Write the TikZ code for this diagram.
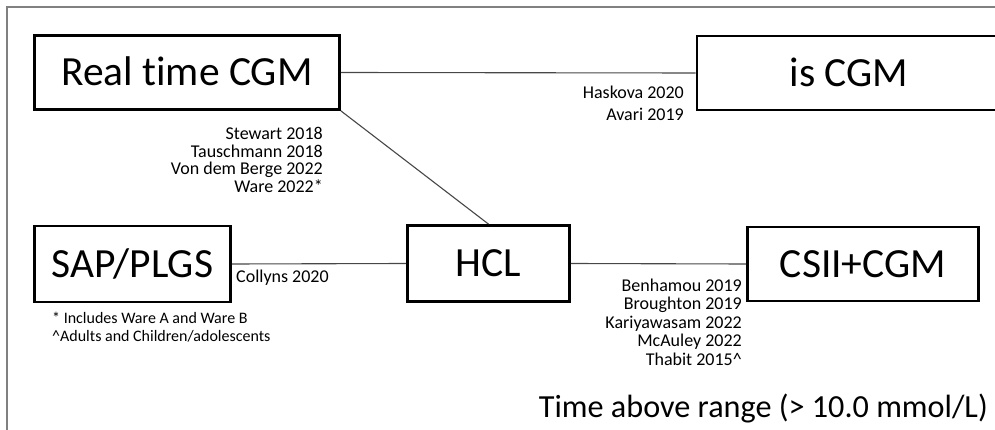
\documentclass[tikz,border=0pt]{standalone}
\usepackage{fontspec}
\setmainfont{Carlito}[Ligatures=NoCommon]
\begin{document}
\begin{tikzpicture}[x=1pt,y=-1pt,
  box/.style={draw, line width=2.8pt, inner sep=0pt,
    font=\fontsize{41.5}{41.5}\selectfont, text height=26.7pt, text depth=0pt},
  cite/.style={inner sep=0pt, font=\fontsize{18}{18}\selectfont, anchor=base east},
  citew/.style={inner sep=0pt, font=\fontsize{18}{18}\selectfont, anchor=base west},
  note/.style={inner sep=0pt, font=\fontsize{16}{16}\selectfont, anchor=base west},
  link/.style={draw=black!72, line width=1.1pt},
  frame/.style={draw=black!50, line width=1.2pt}]
\useasboundingbox (0,0) rectangle (995,430);
\clip (0,0) rectangle (995,430);
\draw[frame] (7,430) -- (7,7) -- (995,7);

\node[box, minimum width=305pt, minimum height=74pt] (rt) at (187,72.5) {Real time CGM};
\node[box, minimum width=304pt, minimum height=74pt] (is) at (849,73) {is CGM};
\node[box, minimum width=196pt, minimum height=76pt] (sap) at (132.5,264) {SAP/PLGS};
\node[box, minimum width=162pt, minimum height=76pt] (hcl) at (488.5,263.5) {HCL};
\node[box, minimum width=231pt, minimum height=74pt] (csii) at (863,264) {CSII+CGM};

\draw[link] (rt.east) -- (is.west);
\draw[link] (rt.south east) -- (hcl.north);
\draw[link] (sap.east) -- (hcl.west);
\draw[link] (hcl.east) -- (csii.west);

\node[cite] (c1) at (684,99) {Haskova 2020};
\node[cite] (c2) at (684,121) {Avari 2019};

\node[cite] (s1) at (323,140) {Stewart 2018};
\node[cite] (s2) at (323,157.5) {Tauschmann 2018};
\node[cite] (s3) at (323,175) {Von dem Berge 2022};
\node[cite] (s4) at (323,192.5) {Ware 2022*};

\node[citew] (co) at (236,282) {Collyns 2020};

\node[cite] (b1) at (742,291) {Benhamou 2019};
\node[cite] (b2) at (742,309.5) {Broughton 2019};
\node[cite] (b3) at (742,328) {Kariyawasam 2022};
\node[cite] (b4) at (742,346.5) {McAuley 2022};
\node[cite] (b5) at (742,365) {Thabit 2015\textasciicircum};

\node[note] (n1) at (52,323) {* Includes Ware A and Ware B};
\node[note] (n2) at (52,341) {\textasciicircum Adults and Children/adolescents};

\node[inner sep=0pt, anchor=base east, font=\fontsize{32.2}{32.2}\selectfont] (title) at (988,417) {Time above range (> 10.0 mmol/L)};
\end{tikzpicture}
\end{document}
